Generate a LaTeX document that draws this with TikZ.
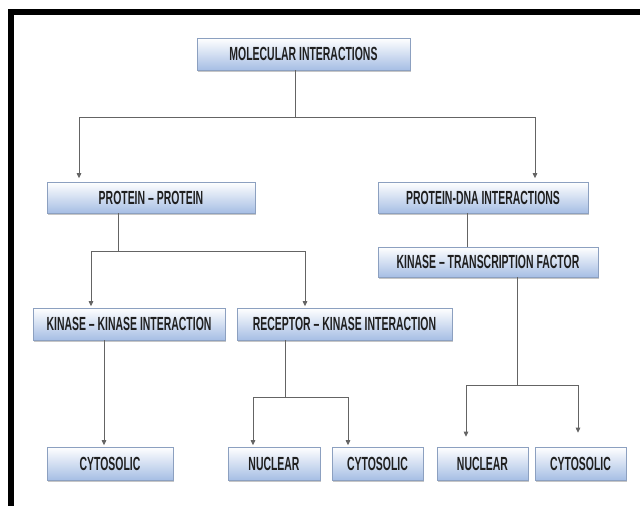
\documentclass[tikz,border=0pt]{standalone}
\usepackage{fontspec}
\newfontfamily\boxfont{Liberation Sans}[FakeStretch=0.55]
\usepackage{xcolor}
\usepackage{tikz}
\usetikzlibrary{arrows.meta, shadows, positioning}
\definecolor{boxblue}{RGB}{166,190,228}
\definecolor{boxline}{RGB}{140,160,192}
\definecolor{linegray}{RGB}{100,100,100}
\tikzset{
  box/.style={rectangle, draw=boxline, line width=0.6pt, top color=white, bottom color=boxblue,
    minimum height=31pt, inner sep=0pt, text=black!88,
    font=\boxfont\bfseries\fontsize{19}{20}\selectfont,
    drop shadow={shadow xshift=1pt, shadow yshift=-1.5pt, opacity=0.45}},
  link/.style={draw=linegray, line width=0.9pt},
  arr/.style={link, -{Triangle[length=5pt,width=4.5pt]}}
}

\begin{document}
\begin{tikzpicture}[x=1pt, y=-1pt]
      \useasboundingbox (0,0) rectangle (640,506);
      \fill (8,9) rectangle (640,15);
      \fill (8,9) rectangle (14,506);

      \node[box, minimum width=213pt, minimum height=32pt] (mol) at (303.5,54) {MOLECULAR INTERACTIONS};
      \node[box, minimum width=208pt] (pp) at (151,197.5) {PROTEIN – PROTEIN};
      \node[box, minimum width=210pt] (pdna) at (483,197.5) {PROTEIN-DNA INTERACTIONS};
      \node[box, minimum width=220pt, minimum height=30pt] (ktf) at (488,262) {KINASE – TRANSCRIPTION FACTOR};
      \node[box, minimum width=192pt, minimum height=32pt] (kk) at (129,324) {KINASE – KINASE INTERACTION};
      \node[box, minimum width=215pt, minimum height=32pt] (rk) at (344.5,324) {RECEPTOR – KINASE INTERACTION};
      \node[box, minimum width=126pt, minimum height=33pt] (cyt1) at (110,463.5) {CYTOSOLIC};
      \node[box, minimum width=92pt, minimum height=33pt] (nuc1) at (274,463.5) {NUCLEAR};
      \node[box, minimum width=91pt, minimum height=33pt] (cyt2) at (377.5,463.5) {CYTOSOLIC};
      \node[box, minimum width=91pt, minimum height=33pt] (nuc2) at (482.5,463.5) {NUCLEAR};
      \node[box, minimum width=91pt, minimum height=33pt] (cyt3) at (580.5,463.5) {CYTOSOLIC};

      \coordinate (s0) at (295,117);
      \coordinate (a1) at (79,117);
      \coordinate (a2) at (535,117);
      \draw[link] (mol.south -| s0) -- (s0);
      \draw[link] (a1) -- (a2);
      \draw[arr, shorten >=3.5pt] (a1) -- (a1 |- pp.north);
      \draw[arr, shorten >=3.5pt] (a2) -- (a2 |- pdna.north);

      \coordinate (s1) at (118,251);
      \coordinate (b1) at (91,251);
      \coordinate (b2) at (305,251);
      \draw[link] (pp.south -| s1) -- (s1);
      \draw[link] (b1) -- (b2);
      \draw[arr, shorten >=1.5pt] (b1) -- (b1 |- kk.north);
      \draw[arr, shorten >=1.5pt] (b2) -- (b2 |- rk.north);

      \coordinate (c0) at (467,230);
      \draw[link] (pdna.south -| c0) -- (ktf.north -| c0);

      \coordinate (s3) at (517,385);
      \coordinate (d1) at (466,385);
      \coordinate (d2) at (578,385);
      \draw[link] (ktf.south -| s3) -- (s3);
      \draw[link] (d1) -- (d2);
      \draw[arr, shorten >=10pt] (d1) -- (d1 |- nuc2.north);
      \draw[arr, shorten >=14pt] (d2) -- (d2 |- cyt3.north);

      \coordinate (e0) at (104,400);
      \draw[arr, shorten >=1.5pt] (kk.south -| e0) -- (cyt1.north -| e0);

      \coordinate (s4) at (285,397);
      \coordinate (f1) at (253,397);
      \coordinate (f2) at (348,397);
      \draw[link] (rk.south -| s4) -- (s4);
      \draw[link] (f1) -- (f2);
      \draw[arr, shorten >=1.5pt] (f1) -- (f1 |- nuc1.north);
      \draw[arr, shorten >=1.5pt] (f2) -- (f2 |- cyt2.north);
    \end{tikzpicture}
\end{document}
